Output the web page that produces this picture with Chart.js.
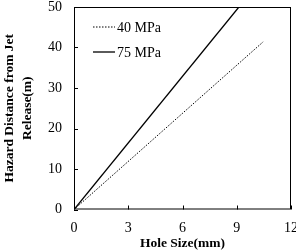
<!DOCTYPE html>
<html>
<head>
<meta charset="utf-8">
<script src="https://cdn.jsdelivr.net/npm/chart.js@4/dist/chart.umd.min.js"></script>
<style>
  html, body { margin: 0; padding: 0; background: #fff; }
  #wrap { width: 296px; height: 252px; }
</style>
</head>
<body>
<div id="wrap"><canvas id="c" width="296" height="252"></canvas></div>
<script>
const seriesNames = ["40 MPa", "75 MPa"];
const holeSize40 = [0, 10.46];
const hazard40 = [0, 41.4];
const holeSize75 = [0, 9.12];
const hazard75 = [0, 50];
const xTicks = [0, 3, 6, 9, 12];
const yTicks = [0, 10, 20, 30, 40, 50];

const FONT = "'Liberation Serif', 'Times New Roman', serif";

// box round the plot, inward ticks and the legend in the corner
const framePlugin = {
  id: "frame",
  afterDraw(chart) {
    const { ctx, chartArea: a, scales } = chart;
    ctx.save();
    ctx.strokeStyle = "#000";
    ctx.lineWidth = 1;
    ctx.setLineDash([]);
    ctx.strokeRect(a.left + 0.5, a.top + 0.5, a.right - a.left - 1, a.bottom - a.top - 1);
    ctx.beginPath();
    xTicks.forEach((v) => {
      const x = Math.round(scales.x.getPixelForValue(v)) + 0.5;
      ctx.moveTo(x, a.bottom);
      ctx.lineTo(x, a.bottom - 4);
    });
    yTicks.forEach((v) => {
      const y = Math.round(scales.y.getPixelForValue(v)) + 0.5;
      ctx.moveTo(a.left, y);
      ctx.lineTo(a.left + 4, y);
    });
    ctx.stroke();

    ctx.font = "14px " + FONT;
    ctx.fillStyle = "#000";
    ctx.textBaseline = "middle";
    chart.data.datasets.forEach((ds, i) => {
      const y = a.top + 20 + i * 25;
      ctx.beginPath();
      ctx.lineWidth = ds.borderWidth;
      ctx.setLineDash(ds.borderDash || []);
      ctx.moveTo(a.left + 19, y);
      ctx.lineTo(a.left + 41, y);
      ctx.stroke();
      ctx.fillText(ds.label, a.left + 43, y + 1);
    });
    ctx.restore();
  },
};

const toPoints = (xs, ys) => xs.map((x, i) => ({ x: x, y: ys[i] }));

new Chart(document.getElementById("c"), {
  type: "scatter",
  data: {
    datasets: [
      {
        label: seriesNames[0],
        data: toPoints(holeSize40, hazard40),
        showLine: true,
        borderColor: "#000",
        borderWidth: 1,
        borderDash: [1.5, 1.5],
        pointRadius: 0,
      },
      {
        label: seriesNames[1],
        data: toPoints(holeSize75, hazard75),
        showLine: true,
        borderColor: "#000",
        borderWidth: 1.3,
        pointRadius: 0,
      },
    ],
  },
  options: {
    responsive: false,
    animation: false,
    layout: { padding: { left: 0, right: 5, top: 7, bottom: 0 } },
    plugins: { legend: { display: false }, tooltip: { enabled: false } },
    scales: {
      x: {
        type: "linear",
        min: 0,
        max: 12,
        afterBuildTicks: (s) => { s.ticks = xTicks.map((v) => ({ value: v })); },
        afterFit: (s) => { s.paddingLeft = 0; s.paddingRight = 0; },
        grid: { display: false, drawTicks: false },
        border: { display: false },
        ticks: { color: "#000", font: { family: FONT, size: 14 }, padding: 10, maxRotation: 0 },
        title: {
          display: true,
          text: "Hole Size(mm)",
          color: "#000",
          font: { family: FONT, size: 13.5, weight: "bold" },
          padding: { top: -10.5, bottom: 0 },
        },
      },
      y: {
        type: "linear",
        min: 0,
        max: 50,
        afterBuildTicks: (s) => { s.ticks = yTicks.map((v) => ({ value: v })); },
        afterFit: (s) => { s.width = 74; s.paddingTop = 0; s.paddingBottom = 0; },
        grid: { display: false, drawTicks: false },
        border: { display: false },
        ticks: { color: "#000", font: { family: FONT, size: 14 }, padding: 12 },
        title: {
          display: true,
          text: ["Hazard Distance from Jet", "Release(m)"],
          color: "#000",
          font: { family: FONT, size: 13.5, weight: "bold", lineHeight: 1.35 },
          padding: { top: 0, bottom: 0 },
        },
      },
    },
  },
  plugins: [framePlugin],
});
</script>
</body>
</html>
